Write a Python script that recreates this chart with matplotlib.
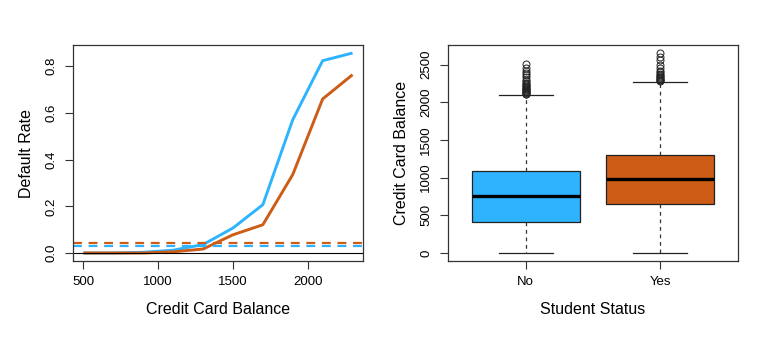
import matplotlib
matplotlib.use("Agg")
import matplotlib.pyplot as plt

plt.rcParams['font.family'] = ['Liberation Sans', 'DejaVu Sans']

BLUE = '#2EB4FF'
ORANGE = '#CC5C16'

# Left panel data
balance = [500, 700, 900, 1100, 1300, 1500, 1700, 1900, 2100, 2300]
rate_nonstudent = [0.0, 0.0, 0.003, 0.012, 0.036, 0.107, 0.207, 0.571, 0.824, 0.857]
rate_student = [0.0, 0.0, 0.0, 0.005, 0.017, 0.078, 0.121, 0.336, 0.660, 0.764]
overall_student = 0.0431
overall_nonstudent = 0.0292
x_ticks = [500, 1000, 1500, 2000]
y_ticks_left = [0.0, 0.2, 0.4, 0.6, 0.8]

# Right panel data
status = ['No', 'Yes']
q1 = [415, 654]
med = [761, 977]
q3 = [1088, 1296]
whislo = [0, 0]
whishi = [2097, 2270]
fliers_no = [2105, 2112, 2120, 2130, 2140, 2150, 2160, 2170, 2180, 2190, 2200, 2215,
             2230, 2245, 2260, 2280, 2300, 2330, 2360, 2390, 2420, 2460, 2502]
fliers_yes = [2280, 2290, 2300, 2310, 2320, 2335, 2350, 2365, 2380, 2400, 2420,
              2450, 2500, 2560, 2600, 2655]
y_ticks_right = [0, 500, 1000, 1500, 2000, 2500]

fig = plt.figure(figsize=(7.77, 3.39), dpi=100)
W, H = 777, 339
ax1 = fig.add_axes([72.7 / W, 1 - 261 / H, (363.3 - 72.7) / W, (261 - 45) / H])
ax2 = fig.add_axes([447.7 / W, 1 - 261 / H, (738.3 - 447.7) / W, (261 - 45) / H])

for ax in (ax1, ax2):
    for s in ax.spines.values():
        s.set_color('#333333')
        s.set_linewidth(0.9)
    ax.tick_params(axis='both', direction='out', length=6, width=0.8, colors='#333333',
                   labelsize=9.5, labelcolor='black', pad=5)

# Left
ax1.plot(balance, rate_nonstudent, color=BLUE, lw=2.1, solid_capstyle='butt')
ax1.plot(balance, rate_student, color=ORANGE, lw=2.1, solid_capstyle='butt')
ax1.axhline(overall_student, color=ORANGE, lw=1.6, ls=(0, (4, 3)))
ax1.axhline(overall_nonstudent, color=BLUE, lw=1.6, ls=(0, (4, 3)))
ax1.axhline(0, color='black', lw=0.8)
ax1.set_xlim(428, 2372)
ax1.set_ylim(-0.0343, 0.8913)
ax1.set_xticks(x_ticks)
ax1.set_yticks(y_ticks_left)
ax1.set_yticklabels([f'{v:.1f}' for v in y_ticks_left], rotation=90, va='center')
ax1.set_xlabel('Credit Card Balance', fontsize=11.5, labelpad=10)
ax1.set_ylabel('Default Rate', fontsize=11.5, labelpad=8)

# Right
stats = []
for i, lab in enumerate(status):
    stats.append(dict(label=lab, q1=q1[i], med=med[i], q3=q3[i], whislo=whislo[i],
                      whishi=whishi[i], fliers=[fliers_no, fliers_yes][i]))
bp = ax2.bxp(stats, positions=[1, 2], widths=0.8, patch_artist=True,
             boxprops=dict(edgecolor='#222222', linewidth=0.9),
             medianprops=dict(color='black', linewidth=2.4),
             whiskerprops=dict(color='#333333', linewidth=0.9, linestyle=(0, (3, 3))),
             capprops=dict(color='#222222', linewidth=0.9),
             flierprops=dict(marker='o', markerfacecolor='none', markeredgecolor='#222222',
                             markersize=5, markeredgewidth=0.7),
             capwidths=0.4)
for patch, c in zip(bp['boxes'], [BLUE, ORANGE]):
    patch.set_facecolor(c)
ax2.set_xlim(0.42, 2.58)
ax2.set_ylim(-106, 2760)
ax2.set_yticks(y_ticks_right)
ax2.set_yticklabels([str(v) for v in y_ticks_right], rotation=90, va='center')
ax2.set_xticks([1, 2])
ax2.set_xticklabels(status)
ax2.set_xlabel('Student Status', fontsize=11.5, labelpad=10)
ax2.set_ylabel('Credit Card Balance', fontsize=11.5, labelpad=8)

fig.savefig('out.png', dpi=100, facecolor='white')
